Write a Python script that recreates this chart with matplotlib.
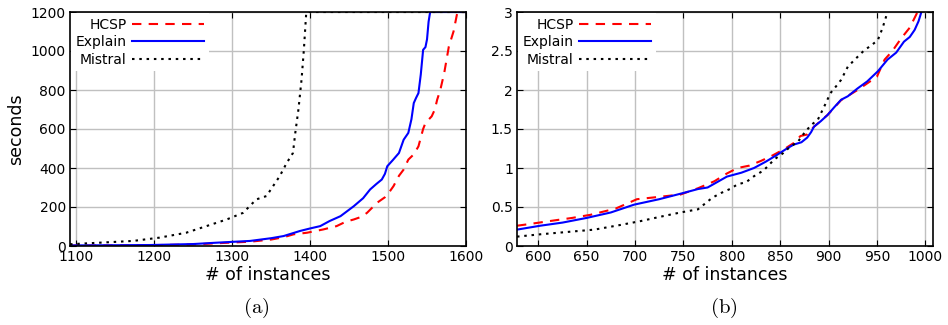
import matplotlib
matplotlib.use("Agg")
from matplotlib import pyplot as plt

# panel (a): 1100 - 1600 instances, seconds up to 1200 (timeout)
a_explain_x = [1092, 1150, 1194, 1250, 1280, 1323, 1350, 1366, 1387, 1400, 1413, 1425, 1439, 1456, 1468,
               1477, 1485, 1492, 1496, 1499, 1506, 1514, 1520, 1526, 1530, 1533, 1536, 1539, 1542, 1545,
               1548, 1550, 1552, 1554, 1600]
a_explain_y = [3, 4, 5, 10, 17, 26, 40, 51, 77, 90, 102, 128, 153, 204, 245,
               290, 318, 341, 370, 409, 440, 477, 545, 580, 650, 733, 760, 784, 880, 1006,
               1020, 1060, 1150, 1200, 1200]
a_hcsp_x = [1092, 1150, 1194, 1250, 1280, 1323, 1350, 1366, 1379, 1396, 1417, 1434, 1446, 1456, 1466,
            1473, 1486, 1496, 1501, 1507, 1514, 1520, 1526, 1533, 1539, 1545, 1548, 1556, 1560,
            1563, 1567, 1572, 1578, 1584, 1589, 1600]
a_hcsp_y = [2, 3, 4, 8, 14, 22, 33, 45, 60, 68, 85, 102, 125, 136, 150,
            170, 222, 250, 273, 307, 360, 392, 443, 470, 511, 600, 631, 665, 700,
            750, 800, 886, 1023, 1100, 1200, 1200]
a_mistral_x = [1092, 1130, 1173, 1207, 1241, 1267, 1293, 1314, 1331, 1344, 1361, 1370, 1378, 1381, 1385,
               1389, 1392, 1395, 1396, 1600]
a_mistral_y = [9, 17, 26, 43, 68, 102, 136, 170, 239, 256, 358, 426, 477, 580, 699,
               852, 1006, 1193, 1200, 1200]

# panel (b): 580 - 1000 instances, seconds up to 3
b_explain_x = [578, 602, 625, 650, 675, 699, 725, 750, 765, 775, 785, 795, 810, 823, 835, 847, 857, 864,
               872, 878, 882, 885, 892, 899, 906, 913, 920, 930, 940, 951, 961, 970, 978, 984, 989, 993, 996]
b_explain_y = [0.21, 0.26, 0.30, 0.36, 0.43, 0.53, 0.60, 0.68, 0.73, 0.75, 0.82, 0.89, 0.94, 1.00, 1.08, 1.17, 1.25, 1.30,
               1.33, 1.39, 1.46, 1.53, 1.60, 1.68, 1.78, 1.875, 1.92, 2.02, 2.11, 2.24, 2.39, 2.48, 2.62, 2.68, 2.77, 2.88, 3.0]
b_hcsp_x = [578, 590, 612, 635, 654, 680, 702, 725, 747, 765, 782, 795, 806, 818, 830, 842, 854, 864,
            871, 878, 885, 899, 913, 930, 950, 958, 966, 975, 984, 992]
b_hcsp_y = [0.26, 0.28, 0.32, 0.36, 0.40, 0.48, 0.60, 0.63, 0.66, 0.74, 0.83, 0.93, 1.00, 1.03, 1.09, 1.16, 1.24, 1.32,
            1.41, 1.43, 1.53, 1.68, 1.87, 2.00, 2.17, 2.39, 2.50, 2.66, 2.80, 3.0]
b_mistral_x = [578, 602, 630, 658, 685, 706, 728, 747, 765, 771, 780, 789, 798, 806, 815, 823, 833, 844, 853,
               861, 868, 875, 882, 889, 896, 902, 908, 913, 920, 928, 937, 944, 951, 956, 961, 963]
b_mistral_y = [0.12, 0.15, 0.18, 0.21, 0.27, 0.32, 0.38, 0.43, 0.47, 0.53, 0.62, 0.68, 0.73, 0.79, 0.82, 0.895, 0.97, 1.11, 1.19,
               1.28, 1.33, 1.45, 1.55, 1.62, 1.80, 1.96, 2.05, 2.13, 2.30, 2.40, 2.51, 2.57, 2.64, 2.80, 3.0, 3.1]

a_xticks = [1100, 1200, 1300, 1400, 1500, 1600]
a_yticks = [0, 200, 400, 600, 800, 1000, 1200]
b_xticks = [600, 650, 700, 750, 800, 850, 900, 950, 1000]
b_yticks = [0, 0.5, 1, 1.5, 2, 2.5, 3]
b_yticklabels = ["0", "0.5", "1", "1.5", "2", "2.5", "3"]

plt.rcParams["font.family"] = "DejaVu Sans"
plt.rcParams["mathtext.fontset"] = "cm"

fig = plt.figure(figsize=(9.48, 3.25), dpi=100)
ax1 = fig.add_axes([70 / 948, 79 / 325, 396 / 948, 234 / 325])
ax2 = fig.add_axes([517 / 948, 79 / 325, 416 / 948, 234 / 325])


def draw_panel(ax, explain, hcsp, mistral):
    ax.plot(hcsp[0], hcsp[1], color="#ff0000", lw=1.5, dashes=(4.5, 3.5), label="HCSP")
    ax.plot(explain[0], explain[1], color="#0000ff", lw=1.5, label="Explain")
    ax.plot(mistral[0], mistral[1], color="black", lw=1.5, dashes=(1.2, 2.3), label="Mistral")
    ax.grid(True, color="#c0c0c0", lw=1)
    ax.set_axisbelow(True)
    ax.tick_params(direction="in", top=True, right=True, labelsize=10, length=4, pad=3)
    ax.set_xlabel("# of instances", fontsize=12.5, labelpad=1)
    leg = ax.legend(loc="upper left", markerfirst=False, handlelength=5.2, frameon=True,
                    fancybox=False, edgecolor="white", framealpha=1, borderaxespad=0.1,
                    fontsize=10, labelspacing=0.25, handletextpad=0.4, borderpad=0.3)
    leg.get_frame().set_linewidth(0)
    for s in ax.spines.values():
        s.set_linewidth(1.2)


draw_panel(ax1, (a_explain_x, a_explain_y), (a_hcsp_x, a_hcsp_y), (a_mistral_x, a_mistral_y))
ax1.set_xlim(1092, 1600)
ax1.set_ylim(0, 1200)
ax1.set_xticks(a_xticks)
ax1.set_yticks(a_yticks)
ax1.set_ylabel("seconds", fontsize=12.5, labelpad=4)

draw_panel(ax2, (b_explain_x, b_explain_y), (b_hcsp_x, b_hcsp_y), (b_mistral_x, b_mistral_y))
ax2.set_xlim(578, 1008)
ax2.set_ylim(0, 3)
ax2.set_xticks(b_xticks)
ax2.set_yticks(b_yticks)
ax2.set_yticklabels(b_yticklabels)

fig.text(256 / 948, 1 - 308 / 325, r"$\mathrm{(a)}$", fontsize=15, ha="center", va="center")
fig.text(724 / 948, 1 - 308 / 325, r"$\mathrm{(b)}$", fontsize=15, ha="center", va="center")

plt.savefig("out.png", dpi=100)
